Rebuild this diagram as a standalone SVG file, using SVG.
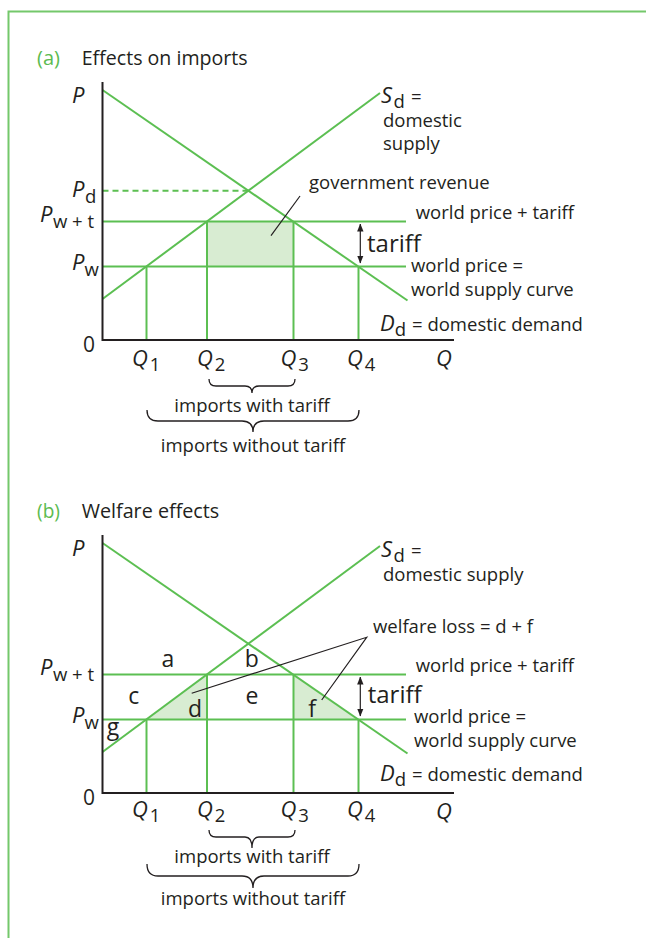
<svg xmlns="http://www.w3.org/2000/svg" width="646" height="938" viewBox="0 0 646 938">
<style>
text{font-family:"Open Sans","Liberation Sans",sans-serif;fill:#231f20}
.t{font-size:18.5px;font-style:normal}
.title{font-size:20px}
.gr{fill:#5cbb50}
.v{font-size:22px;font-style:italic}
.sub{font-size:18.5px;font-style:normal}
.num{font-size:21px}
.big{font-size:24px}
.let{font-size:23px;text-anchor:middle}
.mid{text-anchor:middle}
.g{stroke:#5cbf52;stroke-width:2;fill:none}
.ax{stroke:#231f20;stroke-width:2;fill:none}
.ld{stroke:#231f20;stroke-width:1.2;fill:none}
.br{stroke:#231f20;stroke-width:1.3;fill:none}
.sh{fill:#d8ecd2;stroke:none}
</style>
<defs>
<marker id="ah" viewBox="0 0 8 8" refX="7.5" refY="4" markerWidth="8" markerHeight="8" markerUnits="userSpaceOnUse" orient="auto-start-reverse">
<path d="M0,0.8 L8,4 L0,7.2 z" fill="#231f20"/>
</marker>
</defs>
<path d="M8.5,938 V11.5 H646" stroke="#74c86b" stroke-width="2" fill="none"/>

<g id="panel-a">
<g id="title-a"><text x="37" y="65.3" class="title gr" textLength="23" lengthAdjust="spacingAndGlyphs">(a)</text><text x="81.7" y="65.3" class="title" textLength="166" lengthAdjust="spacingAndGlyphs">Effects on imports</text></g>
<g id="shade-a"><rect x="207" y="221.5" width="86.5" height="45" class="sh"/></g>
<g id="connectors-a">
<line x1="102.5" y1="190.7" x2="248.4" y2="190.7" class="g" stroke-width="1.3" stroke-dasharray="6,4"/>
<line x1="102.5" y1="221.5" x2="406" y2="221.5" class="g"/>
<line x1="102.5" y1="266.5" x2="406" y2="266.5" class="g"/>
<line x1="146.5" y1="266.5" x2="146.5" y2="340" class="g"/>
<line x1="207" y1="221.5" x2="207" y2="340" class="g"/>
<line x1="293.5" y1="221.5" x2="293.5" y2="340" class="g"/>
<line x1="358.5" y1="266.5" x2="358.5" y2="340" class="g"/>
<line x1="102.5" y1="90" x2="407.5" y2="300.5" class="g"/>
<line x1="102.5" y1="299" x2="380" y2="93" class="g"/>
<path d="M102.5,82 V340 H454" class="ax"/>
<line x1="271" y1="235.7" x2="300" y2="196" class="ld"/>
<line x1="360.3" y1="224" x2="360.3" y2="263" class="ld" marker-start="url(#ah)" marker-end="url(#ah)"/>
<path d="M209,379 Q209,386 216,386 L245,386 Q252,386 252,393 Q252,386 259,386 L288,386 Q295,386 295,379" class="br"/>
<path d="M147,410 Q147,421 158,421 L242,421 Q253,421 253,432 Q253,421 264,421 L348,421 Q359,421 359,410" class="br"/>
</g>
<g id="labels-a">
<text x="72" y="103" class="v">P</text>
<text x="72" y="197" class="v">P<tspan class="sub" dy="6" dx="0.5">d</tspan></text>
<text x="40" y="222" class="v">P<tspan class="sub" dy="6" dx="0.5">w + t</tspan></text>
<text x="72" y="270" class="v">P<tspan class="sub" dy="6" dx="0">w</tspan></text>
<text x="83" y="352" class="num">0</text>
<text x="132" y="366" class="v">Q<tspan class="sub" dy="5" dx="2">1</tspan></text>
<text x="197" y="366" class="v">Q<tspan class="sub" dy="5" dx="2">2</tspan></text>
<text x="280.5" y="366" class="v">Q<tspan class="sub" dy="5" dx="2">3</tspan></text>
<text x="347" y="366" class="v">Q<tspan class="sub" dy="5" dx="2">4</tspan></text>
<text x="436" y="366" class="v">Q</text>
<text x="381" y="103" class="v">S<tspan class="sub" dy="5" dx="1.5">d</tspan><tspan class="t" dy="-5" dx="6">=</tspan></text>
<text x="383" y="127" class="t">domestic</text>
<text x="383" y="150" class="t">supply</text>
<text x="309" y="189" class="t">government revenue</text>
<text x="415.7" y="219" class="t">world price + tariff</text>
<text x="367" y="251.7" class="big">tariff</text>
<text x="411" y="271.7" class="t">world price =</text>
<text x="411" y="295.7" class="t">world supply curve</text>
<text x="380" y="331" class="v">D<tspan class="sub" dy="5" dx="0">d</tspan><tspan class="t" dy="-5" dx="6">= domestic demand</tspan></text>
<text x="252" y="411.7" class="t mid">imports with tariff</text>
<text x="253" y="451.7" class="t mid">imports without tariff</text>
</g>
</g>

<g id="panel-b">
<g id="title-b"><text x="37" y="518" class="title gr" textLength="23" lengthAdjust="spacingAndGlyphs">(b)</text><text x="81.7" y="518" class="title" textLength="137.6" lengthAdjust="spacingAndGlyphs">Welfare effects</text></g>
<g id="shade-b">
<polygon points="146.3,719.5 206.9,674.5 206.9,719.5" class="sh"/>
<polygon points="293,674.5 293,719.5 358.2,719.5" class="sh"/>
</g>
<g id="connectors-b">
<line x1="102.5" y1="674.5" x2="406" y2="674.5" class="g"/>
<line x1="102.5" y1="719.5" x2="406" y2="719.5" class="g"/>
<line x1="146.5" y1="719.5" x2="146.5" y2="793" class="g"/>
<line x1="207" y1="674.5" x2="207" y2="793" class="g"/>
<line x1="293.5" y1="674.5" x2="293.5" y2="793" class="g"/>
<line x1="358.5" y1="719.5" x2="358.5" y2="793" class="g"/>
<line x1="102.5" y1="543" x2="407.5" y2="753.5" class="g"/>
<line x1="102.5" y1="752" x2="380" y2="546" class="g"/>
<path d="M102.5,535 V793 H454" class="ax"/>
<polyline points="191.7,693.3 366.7,637.3 321.7,700" class="ld"/>
<line x1="360.3" y1="677" x2="360.3" y2="716" class="ld" marker-start="url(#ah)" marker-end="url(#ah)"/>
<path d="M209,830 Q209,837 216,837 L245,837 Q252,837 252,848 Q252,837 259,837 L288,837 Q295,837 295,830" class="br"/>
<path d="M147,864 Q147,876 158,876 L242,876 Q253,876 253,888 Q253,876 264,876 L348,876 Q359,876 359,864" class="br"/>
</g>
<g id="labels-b">
<text x="72" y="556" class="v">P</text>
<text x="40" y="675" class="v">P<tspan class="sub" dy="6" dx="0.5">w + t</tspan></text>
<text x="72" y="723" class="v">P<tspan class="sub" dy="6" dx="0">w</tspan></text>
<text x="83" y="805" class="num">0</text>
<text x="132" y="817" class="v">Q<tspan class="sub" dy="5" dx="2">1</tspan></text>
<text x="197" y="817" class="v">Q<tspan class="sub" dy="5" dx="2">2</tspan></text>
<text x="280.5" y="817" class="v">Q<tspan class="sub" dy="5" dx="2">3</tspan></text>
<text x="347" y="817" class="v">Q<tspan class="sub" dy="5" dx="2">4</tspan></text>
<text x="436" y="819" class="v">Q</text>
<text x="381" y="556.7" class="v">S<tspan class="sub" dy="5" dx="1.5">d</tspan><tspan class="t" dy="-5" dx="6">=</tspan></text>
<text x="383" y="580.7" class="t">domestic supply</text>
<text x="373" y="632.7" class="t">welfare loss = d + f</text>
<text x="415.7" y="672.3" class="t">world price + tariff</text>
<text x="367.7" y="703.3" class="big">tariff</text>
<text x="414" y="723.3" class="t">world price =</text>
<text x="414" y="747.3" class="t">world supply curve</text>
<text x="380" y="780.7" class="v">D<tspan class="sub" dy="5" dx="0">d</tspan><tspan class="t" dy="-5" dx="6">= domestic demand</tspan></text>
<text x="167.8" y="667.3" class="let">a</text>
<text x="251.8" y="667.3" class="let">b</text>
<text x="133.7" y="704" class="let">c</text>
<text x="195" y="717.3" class="let">d</text>
<text x="252" y="704" class="let">e</text>
<text x="312" y="717.3" class="let">f</text>
<text x="113" y="735" class="let">g</text>
<text x="252" y="863.3" class="t mid">imports with tariff</text>
<text x="253" y="905" class="t mid">imports without tariff</text>
</g>
</g>
</svg>
